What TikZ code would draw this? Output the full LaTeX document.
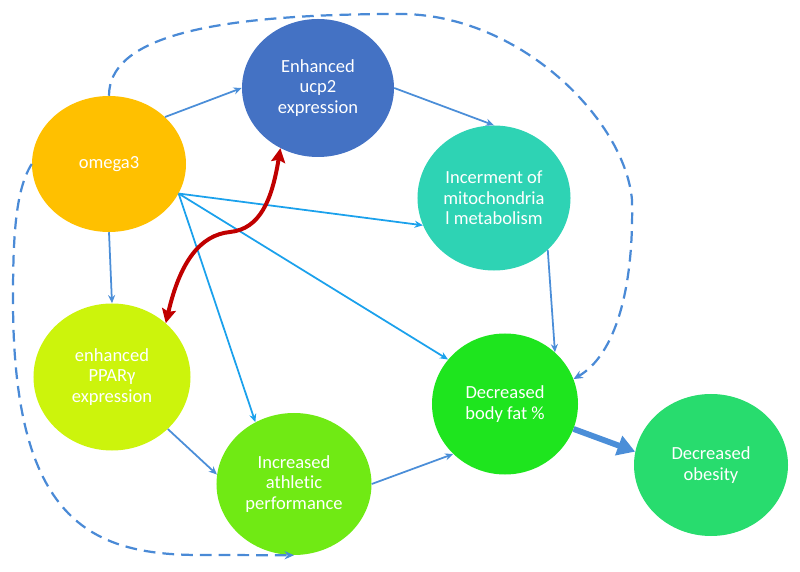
\documentclass[tikz,border=0pt]{standalone}
\usepackage{fontspec}
\setmainfont[Ligatures=NoCommon]{Carlito}
\usetikzlibrary{shapes.geometric,arrows.meta}
\definecolor{cOmega}{HTML}{FFC000}
\definecolor{cUcp}{HTML}{4472C4}
\definecolor{cIncr}{HTML}{2ED3B4}
\definecolor{cPpar}{HTML}{CCF40C}
\definecolor{cAthl}{HTML}{70EA14}
\definecolor{cFat}{HTML}{1EE51E}
\definecolor{cObes}{HTML}{28DC6E}
\definecolor{steel}{HTML}{4B8ED8}
\definecolor{fanblue}{HTML}{1BA1EC}
\definecolor{dashblue}{HTML}{4A8AD6}
\definecolor{darkred}{HTML}{C00000}
\begin{document}
\begin{tikzpicture}[x=0.03cm,y=-0.03cm,
  bub/.style={ellipse, inner sep=0pt, text=white, align=center,
    font=\fontsize{15.8}{17.6}\selectfont},
  link/.style={draw=steel, line width=1.5pt, -{Stealth[length=7pt,width=6pt]}},
  fanlink/.style={link, draw=fanblue},
  dashlink/.style={draw=dashblue, line width=1.9pt, dash pattern=on 10pt off 6pt,
    -{Stealth[length=8pt,width=7pt]}},
  redlink/.style={draw=darkred, line width=3.4pt,
    {Stealth[length=12pt,width=12pt,inset=2pt]}-{Stealth[length=12pt,width=12pt,inset=2pt]}},
  biglink/.style={draw=steel, line width=5pt, -{Triangle[length=15pt,width=17pt]}}
]
\useasboundingbox (0,0) rectangle (800,572);

\node[bub, fill=cOmega, minimum width=4.62cm, minimum height=4.08cm] (omega3) at (109,164) {omega3};
\node[bub, fill=cUcp, minimum width=4.56cm, minimum height=4.14cm] (ucp2) at (318,88) {Enhanced\\ucp2\\expression};
\node[bub, fill=cIncr, minimum width=4.59cm, minimum height=4.35cm] (incr) at (494,198) {Incerment of\\mitochondria\\l metabolism};
\node[bub, fill=cPpar, minimum width=4.71cm, minimum height=4.41cm] (ppar) at (112,377) {enhanced\\PPARγ\\expression};
\node[bub, fill=cAthl, minimum width=4.65cm, minimum height=4.26cm] (athl) at (294,484) {Increased\\athletic\\performance};
\node[bub, fill=cFat, minimum width=4.38cm, minimum height=4.23cm] (fat) at (505,404) {Decreased\\body fat \%};
\node[bub, fill=cObes, minimum width=4.62cm, minimum height=4.26cm] (obes) at (711,465) {Decreased\\obesity};

% plain arrows
\draw[link] (omega3.40) -- (ucp2.west);
\draw[link] (ucp2.east) -- (incr.north);
\draw[link] (omega3.south) -- (ppar.north);
\draw[link] (ppar.-43) -- (athl.173);
\draw[link] (athl.east) -- (fat.-136);
\draw[link] (incr.-44) -- (fat.46);

% fan from omega3
\coordinate (fan) at (omega3.-23.5);
\draw[fanlink] (fan) -- (incr.201);
\draw[fanlink] (fan) -- (fat.142);
\draw[fanlink] (fan) -- (athl.122);

% thick arrow
\draw[biglink] (fat.-20) -- (obes.170);

% red double arrow
\coordinate (r1) at (230,232);
\draw[redlink] (ppar.45) .. controls (180,262) and (200,235) .. (r1)
  .. controls (260,229) and (272,200) .. (ucp2.-122);

% dashed top
\coordinate (t1) at (400,14);
\coordinate (t2) at (632,200);
\draw[dashlink] (omega3.north) .. controls (109,40) and (200,14) .. (t1)
  .. controls (520,14) and (625,120) .. (t2)
  .. controls (634,290) and (615,355) .. (fat.20);

% dashed bottom
\coordinate (b1) at (13,300);
\coordinate (b2) at (200,555);
\draw[dashlink] (omega3.west) .. controls (15,190) and (13,240) .. (b1)
  .. controls (13,520) and (90,555) .. (b2) -- (athl.south);
\end{tikzpicture}
\end{document}
